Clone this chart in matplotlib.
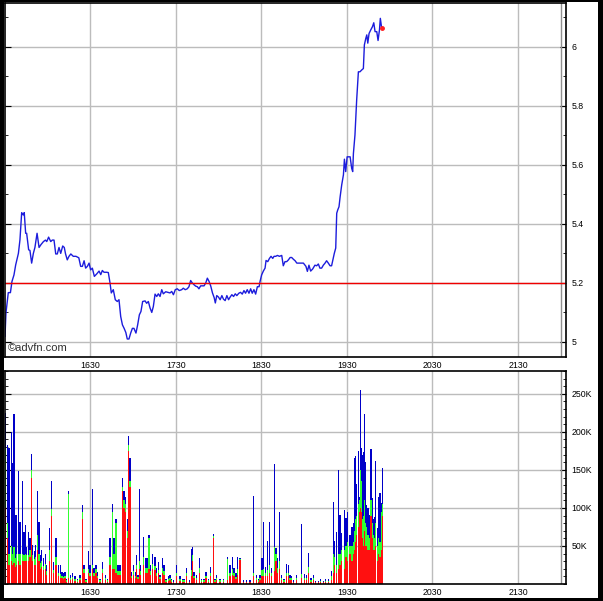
import matplotlib
matplotlib.use("Agg")
import matplotlib.pyplot as plt
from matplotlib.patches import Rectangle
from matplotlib.ticker import MultipleLocator, FuncFormatter

plt.rcParams['font.family'] = ['Liberation Sans', 'DejaVu Sans']

# Intraday price (minutes after 15:30)
price_min = [0, 0.7, 2.3, 3.8, 4.9, 6.3, 7.5, 9.4, 10.5, 11.7, 12.8, 13.5, 14.5, 15.2, 16.6, 17.5,
             18.7, 19.9, 21.0, 22.5, 23.9, 25.3, 27.0, 28.4, 29.3, 30.6, 32.1, 33.2, 34.4, 35.6,
             36.7, 37.9, 39.1, 40.5, 41.6, 42.5, 43.7, 44.9, 46.2, 47.9, 49.8, 51.8, 53.1, 54.3,
             55.5, 56.6, 57.8, 59.0, 60.1, 61.3, 62.7, 64.3, 66.0, 67.2, 68.3, 69.5, 71.4, 72.5,
             73.7, 74.6, 76.0, 77.4, 78.8, 80.0, 81.2, 82.4, 83.6, 84.8, 85.8, 87.0, 88.2, 89.4,
             90.5, 91.9, 93.1, 94.3, 95.4, 96.6, 98.3, 99.4, 100.6, 101.8, 103.0, 104.1, 105.3,
             106.5, 107.6, 108.8, 110.0, 111.1, 112.8, 114.2, 115.8, 117.0, 118.2, 119.5, 120.9,
             122.3, 124.0, 125.1, 126.5, 127.9, 129.1, 130.3, 131.4, 132.6, 133.8, 135.0, 136.1,
             137.3, 138.5, 139.7, 140.9, 142.0, 143.2, 144.4, 145.6, 146.8, 147.6, 148.6, 149.8,
             151.0, 152.2, 153.3, 154.5, 155.7, 156.9, 158.0, 159.2, 160.4, 161.6, 162.7, 164.1,
             165.3, 166.5, 167.7, 168.8, 170.0, 171.2, 172.4, 173.5, 174.7, 175.9, 177.1, 178.3,
             179.0, 180.1, 181.3, 182.5, 183.2, 184.4, 185.6, 186.7, 187.9, 188.8, 190.0, 191.2,
             192.6, 194.2, 195.3, 196.5, 197.7, 198.9, 200.1, 201.2, 202.4, 203.6, 204.8, 207.0,
             209.4, 211.2, 212.2, 213.3, 214.5, 215.9, 217.5, 218.7, 219.9, 221.0, 222.2, 223.4,
             224.6, 225.7, 226.9, 228.1, 229.2, 230.4, 231.1, 232.1, 232.8, 233.5, 234.4, 235.2,
             236.3, 237.5, 238.2, 239.1, 240.1, 241.2, 242.2, 243.3, 244.0, 244.5, 245.6, 246.8,
             248.0, 249.1, 250.3, 251.5, 252.2, 253.2, 253.9, 254.6, 255.5, 256.7, 257.9, 258.8,
             259.7, 260.9, 261.8, 262.8, 263.4, 264.2]
price = [5.019, 5.099, 5.167, 5.167, 5.205, 5.227, 5.261, 5.300, 5.346, 5.438, 5.430, 5.438, 5.368,
         5.368, 5.312, 5.310, 5.267, 5.300, 5.320, 5.368, 5.320, 5.330, 5.340, 5.345, 5.340, 5.355,
         5.340, 5.345, 5.345, 5.298, 5.298, 5.320, 5.300, 5.325, 5.320, 5.298, 5.278, 5.290, 5.298,
         5.290, 5.290, 5.285, 5.256, 5.256, 5.275, 5.250, 5.256, 5.267, 5.244, 5.250, 5.222, 5.230,
         5.240, 5.228, 5.242, 5.236, 5.236, 5.235, 5.200, 5.166, 5.177, 5.143, 5.137, 5.143, 5.086,
         5.058, 5.046, 5.032, 5.010, 5.010, 5.030, 5.046, 5.046, 5.030, 5.058, 5.092, 5.103, 5.137,
         5.139, 5.131, 5.137, 5.115, 5.100, 5.120, 5.162, 5.154, 5.163, 5.154, 5.177, 5.163, 5.170,
         5.168, 5.166, 5.171, 5.160, 5.177, 5.180, 5.174, 5.177, 5.182, 5.177, 5.180, 5.187, 5.208,
         5.200, 5.194, 5.189, 5.187, 5.180, 5.190, 5.190, 5.190, 5.200, 5.216, 5.205, 5.189, 5.166,
         5.150, 5.132, 5.157, 5.152, 5.143, 5.157, 5.145, 5.140, 5.157, 5.143, 5.152, 5.160, 5.154,
         5.163, 5.157, 5.165, 5.168, 5.162, 5.174, 5.165, 5.177, 5.165, 5.180, 5.165, 5.177, 5.162,
         5.187, 5.187, 5.205, 5.227, 5.240, 5.250, 5.276, 5.272, 5.283, 5.290, 5.283, 5.290, 5.290,
         5.293, 5.290, 5.293, 5.258, 5.272, 5.272, 5.278, 5.286, 5.286, 5.280, 5.275, 5.267, 5.267,
         5.267, 5.256, 5.239, 5.260, 5.240, 5.247, 5.260, 5.258, 5.264, 5.250, 5.250, 5.260, 5.267,
         5.275, 5.267, 5.258, 5.258, 5.284, 5.300, 5.318, 5.436, 5.447, 5.458, 5.492, 5.532, 5.566,
         5.619, 5.577, 5.627, 5.627, 5.627, 5.588, 5.577, 5.638, 5.701, 5.820, 5.915, 5.915, 5.921,
         5.926, 6.006, 6.028, 6.040, 6.012, 6.045, 6.057, 6.068, 6.081, 6.051, 6.051, 6.021, 6.057,
         6.096, 6.068]
last_min = 264.7
last_price = 6.062
prev_close = 5.2

# Volume bars: minute, total, red part, green part (thousands)
vol_min = [0.0, 1.6, 2.8, 4.7, 5.4, 6.3, 7.3, 8.2, 9.4, 10.5, 12.2, 13.3, 14.3, 15.2, 16.4, 17.5,
           18.5, 19.4, 20.6, 21.5, 22.7, 23.9, 24.8, 25.7, 27.0, 28.3, 29.2, 31.1, 32.5, 33.9,
           35.8, 37.4, 38.8, 40.0, 40.9, 42.1, 43.3, 44.7, 46.1, 47.5, 49.1, 50.8, 52.6, 54.5,
           55.4, 56.8, 58.5, 59.6, 61.3, 62.5, 63.9, 64.8, 66.7, 68.5, 70.4, 71.8, 73.7, 75.5,
           76.5, 77.9, 78.8, 80.0, 81.2, 82.3, 83.5, 84.7, 85.8, 86.8, 87.7, 88.7, 90.1, 91.5,
           92.4, 93.3, 94.3, 95.2, 97.1, 98.5, 99.7, 101.1, 102.2, 103.6, 105.3, 106.4, 107.8,
           108.8, 110.6, 111.6, 113.0, 114.6, 115.8, 117.0, 118.1, 120.5, 122.8, 124.7, 125.6,
           127.5, 129.3, 130.8, 131.5, 132.6, 134.5, 136.4, 138.0, 139.7, 141.1, 142.7, 144.3,
           146.2, 147.4, 148.5, 150.9, 153.3, 156.0, 157.9, 159.5, 160.7, 162.1, 163.0, 164.9,
           167.3, 169.6, 171.9, 174.3, 176.6, 177.8, 179.0, 180.4, 181.5, 182.9, 184.3, 185.5,
           187.1, 189.0, 190.2, 191.1, 192.5, 194.2, 195.8, 197.7, 198.8, 200.0, 201.2, 202.3,
           204.7, 208.2, 210.1, 211.7, 212.9, 214.7, 216.4, 218.0, 219.9, 221.5, 223.4, 225.0,
           226.9, 229.2, 230.4, 231.4, 232.4, 233.9, 235.1, 236.3, 238.2, 239.3, 240.5, 242.1,
           243.5, 244.5, 245.2, 245.9, 246.8, 248.0, 248.7, 249.4, 250.1, 251.1, 251.8, 252.5,
           253.2, 253.9, 254.8, 255.8, 256.9, 257.9, 258.6, 259.5, 260.2, 261.4, 262.3, 263.2,
           263.9, 264.8]
vol_total = [225, 183, 179, 200, 159, 223, 91, 91, 149, 82, 135, 69, 78, 49, 69, 60, 171, 51, 43,
             51, 122, 82, 38, 45, 34, 40, 25, 73, 135, 29, 60, 25, 25, 16, 14, 16, 7, 122, 12, 14,
             10, 7, 12, 104, 25, 7, 43, 25, 125, 21, 25, 16, 7, 29, 12, 7, 60, 105, 60, 86, 25,
             25, 25, 139, 122, 115, 86, 194, 165, 16, 25, 16, 38, 12, 125, 25, 62, 34, 34, 65, 25,
             40, 36, 21, 29, 12, 34, 25, 7, 10, 12, 7, 5, 25, 10, 7, 7, 21, 5, 46, 49, 16, 12, 34,
             7, 7, 16, 7, 23, 66, 7, 12, 7, 7, 35, 25, 35, 21, 14, 35, 34, 5, 5, 5, 116, 12, 7,
             12, 34, 82, 23, 57, 82, 21, 158, 47, 34, 95, 12, 7, 26, 25, 12, 11, 5, 12, 79, 13,
             12, 41, 8, 12, 4, 4, 6, 4, 6, 6, 17, 108, 56, 69, 150, 91, 67, 97, 87, 95, 64, 75,
             80, 166, 168, 131, 175, 115, 255, 179, 170, 174, 223, 161, 104, 100, 91, 178, 113, 86,
             88, 162, 73, 114, 119, 106, 152]
vol_red = [100, 60, 25, 30, 25, 28, 22, 25, 30, 25, 30, 30, 30, 30, 30, 35, 139, 30, 25, 25, 45,
           30, 20, 22, 18, 20, 12, 30, 89, 14, 25, 10, 8, 8, 6, 8, 3, 8, 5, 6, 4, 3, 5, 86, 15,
           3, 15, 10, 20, 10, 15, 8, 3, 15, 5, 3, 25, 20, 20, 15, 12, 12, 12, 122, 100, 95, 60,
           175, 128, 8, 12, 8, 20, 6, 20, 12, 25, 15, 15, 20, 12, 20, 18, 10, 14, 6, 15, 12, 3,
           4, 5, 3, 2, 10, 4, 3, 3, 10, 2, 10, 30, 8, 5, 15, 3, 3, 8, 3, 10, 60, 3, 5, 3, 3, 5,
           10, 12, 10, 6, 12, 32, 2, 2, 2, 10, 5, 3, 5, 10, 10, 10, 10, 15, 10, 17, 30, 15, 20,
           5, 3, 10, 10, 5, 5, 2, 5, 8, 5, 5, 15, 3, 5, 2, 2, 2, 2, 2, 2, 5, 15, 25, 15, 20, 25,
           30, 20, 35, 30, 40, 30, 40, 45, 55, 65, 75, 95, 100, 95, 60, 50, 70, 50, 50, 45, 45,
           90, 60, 45, 45, 50, 30, 40, 35, 45, 90]
vol_green = [79, 20, 15, 20, 15, 20, 12, 15, 10, 15, 10, 8, 10, 8, 8, 10, 11, 8, 8, 10, 20, 10, 8,
             8, 6, 6, 5, 15, 9, 5, 10, 5, 5, 3, 3, 3, 2, 110, 3, 3, 2, 2, 3, 8, 5, 2, 5, 5, 5, 4,
             5, 3, 2, 5, 3, 2, 10, 75, 20, 65, 5, 5, 5, 5, 10, 10, 10, 8, 8, 3, 5, 3, 5, 3, 10, 5,
             10, 6, 6, 40, 5, 6, 6, 4, 5, 3, 6, 5, 2, 2, 3, 2, 1, 5, 2, 2, 2, 4, 1, 8, 8, 3, 3, 6,
             2, 2, 3, 2, 5, 3, 2, 3, 2, 2, 28, 5, 8, 4, 3, 8, 1, 1, 1, 1, 5, 3, 2, 3, 8, 10, 5, 8,
             10, 4, 32, 10, 6, 10, 3, 2, 5, 5, 3, 3, 1, 3, 5, 3, 3, 8, 2, 3, 1, 1, 2, 1, 2, 2, 5,
             25, 10, 10, 20, 15, 15, 25, 15, 25, 10, 20, 15, 25, 30, 25, 30, 15, 50, 40, 25, 40,
             40, 30, 25, 20, 15, 20, 20, 20, 15, 30, 20, 20, 20, 50, 15]

x_ticks = [60, 120, 180, 240, 300, 360]
x_labels = ["1630", "1730", "1830", "1930", "2030", "2130"]

fig = plt.figure(figsize=(6.03, 6.01), dpi=100)
fig.patch.set_facecolor("white")

ax1 = fig.add_axes([5 / 603, 1 - 357 / 601, 561 / 603, 354 / 601])
ax2 = fig.add_axes([5 / 603, 1 - 584 / 601, 561 / 603, 213 / 601])

grid_col = "#bcbcbc"
for ax in (ax1, ax2):
    ax.set_xlim(0, 393.7)
    ax.set_xticks(x_ticks)
    ax.set_xticklabels(x_labels)
    ax.grid(True, color=grid_col, linewidth=1)
    ax.set_axisbelow(True)
    ax.axvline(390, color="#909090", linewidth=1)
    ax.yaxis.tick_right()
    ax.tick_params(axis="x", length=0, labelsize=6.3, pad=3)
    ax.tick_params(axis="y", which="both", direction="in", left=True, right=True,
                   labelsize=6.3, pad=4)
    ax.tick_params(axis="y", which="major", length=4)
    ax.tick_params(axis="y", which="minor", length=2)
    for s in ax.spines.values():
        s.set_linewidth(1.2)
        s.set_color("black")

# price panel
ax1.plot(price_min, price, color="#1c1cdc", linewidth=1)
ax1.axhline(prev_close, color="#f00000", linewidth=1)
ax1.plot([last_min], [last_price], marker="o", markersize=2.5, color="#ff2020", linestyle="none")
ax1.set_ylim(4.949, 6.148)
ax1.set_yticks([5.0, 5.2, 5.4, 5.6, 5.8, 6.0])
ax1.set_yticklabels(["5", "5.2", "5.4", "5.6", "5.8", "6"])
ax1.yaxis.set_minor_locator(MultipleLocator(0.1))
ax1.text(0.005, 0.01, "©advfn.com", transform=ax1.transAxes, fontsize=8,
         color="#303030", ha="left", va="bottom")

# volume panel
blue_part = [t - r - g for t, r, g in zip(vol_total, vol_red, vol_green)]
green_base = vol_red
blue_base = [r + g for r, g in zip(vol_red, vol_green)]
w = 0.9
ax2.bar(vol_min, vol_red, width=w, color="#ff1010", linewidth=0)
ax2.bar(vol_min, vol_green, bottom=green_base, width=w, color="#30ff30", linewidth=0)
ax2.bar(vol_min, blue_part, bottom=blue_base, width=w, color="#0000c8", linewidth=0)
ax2.set_ylim(0, 280)
ax2.set_yticks([50, 100, 150, 200, 250])
ax2.yaxis.set_major_formatter(FuncFormatter(lambda v, p: "%dK" % v))
ax2.yaxis.set_minor_locator(MultipleLocator(10))

# black frame around the image
for x, y, wd, ht in [(0, 0, 4 / 603, 1), (598 / 603, 0, 5 / 603, 1),
                     (0, 0, 1, 3 / 601), (0, 599 / 601, 1, 2 / 601)]:
    fig.add_artist(Rectangle((x, y), wd, ht, transform=fig.transFigure,
                             facecolor="black", edgecolor="none"))

fig.savefig("out.png", dpi=100)
